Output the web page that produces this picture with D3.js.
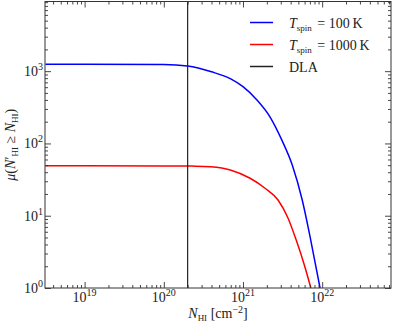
<!DOCTYPE html>
<html>
<head>
    <script src="https://d3js.org/d3.v7.js"></script>
    <style>
        body { margin: 0; background: #fff; }
        svg text { font-family: "Liberation Serif", "DejaVu Serif", serif; fill: #222; }
        .tick line { stroke: #333; stroke-width: 0.9; }
    </style>
</head>
<body>
    <svg></svg>
    <script>
        // Data
        var nBlue = [3.2e18, 1e19, 1e20, 2e20, 4e20, 7e20, 1e21, 1.5e21, 2.2e21, 3.1e21, 4.2e21, 5.6e21, 7.2e21, 9.4e21];
        var muBlue = [1250, 1250, 1240, 1180, 980, 780, 610, 400, 232, 111, 50, 16.5, 4.5, 1];
        var nRed = [3.2e18, 1e19, 1e20, 2.5e20, 3.9e20, 6.9e20, 1.23e21, 1.9e21, 2.77e21, 3.7e21, 4.7e21, 5.9e21, 7.2e21];
        var muRed = [49, 49, 48.8, 48.5, 47.5, 43, 33, 24, 16.5, 9.3, 4.6, 2.15, 1];
        var dlaN = 2e20;

        var xTicks = [1e19, 1e20, 1e21, 1e22];
        var xTickExp = ["19", "20", "21", "22"];
        var yTicks = [1, 10, 100, 1000];
        var yTickExp = ["0", "1", "2", "3"];

        var xDomain = [3.16e18, 7.4e22];
        var yDomain = [1, 9200];

        // Graph dimensions
        var width = 394, height = 324;
        var pLeft = 45, pRight = 391, pTop = 1.5, pBottom = 288;

        var svg = d3.select("svg")
            .attr("width", width)
            .attr("height", height);

        var x = d3.scaleLog().domain(xDomain).range([pLeft, pRight]);
        var y = d3.scaleLog().domain(yDomain).range([pBottom, pTop]);

        var xMinor = x.ticks().filter(function (d) { return xTicks.indexOf(d) < 0; });
        var yMinor = y.ticks().filter(function (d) { return yTicks.indexOf(d) < 0; });

        svg.append("clipPath").attr("id", "plot")
            .append("rect")
            .attr("x", pLeft).attr("y", pTop)
            .attr("width", pRight - pLeft).attr("height", pBottom - pTop);

        // curves
        var line = d3.line()
            .x(function (d) { return x(d[0]); })
            .y(function (d) { return y(d[1]); })
            .curve(d3.curveMonotoneX);

        svg.append("path")
            .datum(d3.zip(nBlue, muBlue))
            .attr("clip-path", "url(#plot)")
            .attr("fill", "none").attr("stroke", "#0000ff").attr("stroke-width", 1.5)
            .attr("d", line);

        svg.append("path")
            .datum(d3.zip(nRed, muRed))
            .attr("clip-path", "url(#plot)")
            .attr("fill", "none").attr("stroke", "#ff0000").attr("stroke-width", 1.5)
            .attr("d", line);

        // DLA line
        svg.append("line")
            .attr("x1", x(dlaN)).attr("x2", x(dlaN))
            .attr("y1", pTop).attr("y2", pBottom)
            .attr("stroke", "#222").attr("stroke-width", 1.2);

        // ticks on all four sides, pointing in
        function ticks(axis, values, size, tx, ty) {
            svg.append("g")
                .attr("transform", "translate(" + tx + "," + ty + ")")
                .call(axis.tickValues(values).tickSize(-size).tickFormat(""))
                .call(function (g) { g.select(".domain").remove(); });
        }
        ticks(d3.axisBottom(x), xTicks, 6, 0, pBottom);
        ticks(d3.axisBottom(x), xMinor, 3, 0, pBottom);
        ticks(d3.axisTop(x), xTicks, 6, 0, pTop);
        ticks(d3.axisTop(x), xMinor, 3, 0, pTop);
        ticks(d3.axisLeft(y), yTicks, 6, pLeft, 0);
        ticks(d3.axisLeft(y), yMinor, 3, pLeft, 0);
        ticks(d3.axisRight(y), yTicks, 6, pRight, 0);
        ticks(d3.axisRight(y), yMinor, 3, pRight, 0);

        // frame
        svg.append("rect")
            .attr("x", pLeft).attr("y", pTop)
            .attr("width", pRight - pLeft).attr("height", pBottom - pTop)
            .attr("fill", "none").attr("stroke", "#333").attr("stroke-width", 1);

        // tick labels
        xTicks.forEach(function (d, i) {
            var t = svg.append("text")
                .attr("x", x(d)).attr("y", 302)
                .attr("text-anchor", "middle").attr("font-size", 14);
            t.append("tspan").text("10");
            t.append("tspan").attr("font-size", 10).attr("dy", -6).text(xTickExp[i]);
        });
        yTicks.forEach(function (d, i) {
            var t = svg.append("text")
                .attr("x", 43).attr("y", y(d) + 5)
                .attr("text-anchor", "end").attr("font-size", 14);
            t.append("tspan").text("10");
            t.append("tspan").attr("font-size", 10).attr("dy", -6).text(yTickExp[i]);
        });

        // axis labels
        var xl = svg.append("text")
            .attr("x", (pLeft + pRight) / 2).attr("y", 318)
            .attr("text-anchor", "middle").attr("font-size", 14);
        xl.append("tspan").attr("font-style", "italic").text("N");
        xl.append("tspan").attr("font-size", 9).attr("dy", 3).text("HI");
        xl.append("tspan").attr("dy", -3).text(" [cm");
        xl.append("tspan").attr("font-size", 10).attr("dy", -5).text("\u22122");
        xl.append("tspan").attr("dy", 5).text("]");

        var yl = svg.append("text")
            .attr("transform", "translate(15," + (pTop + pBottom) / 2 + ") rotate(-90)")
            .attr("text-anchor", "middle").attr("font-size", 14);
        yl.append("tspan").attr("font-style", "italic").text("\u03bc");
        yl.append("tspan").text("(");
        yl.append("tspan").attr("font-style", "italic").text("N");
        yl.append("tspan").text("\u2032");
        yl.append("tspan").attr("font-size", 9).attr("dy", 3).text("HI");
        yl.append("tspan").attr("dy", -3).text(" \u2265 ");
        yl.append("tspan").attr("font-style", "italic").text("N");
        yl.append("tspan").attr("font-size", 9).attr("dy", 3).text("HI");
        yl.append("tspan").attr("dy", -3).text(")");

        // legend
        var legend = [
            { color: "#0000ff", label: ["T", "spin", " = 100\u2009K"] },
            { color: "#ff0000", label: ["T", "spin", " = 1000\u2009K"] },
            { color: "#222", label: ["DLA"] }
        ];
        legend.forEach(function (d, i) {
            var ly = 22.5 + i * 22;
            svg.append("line")
                .attr("x1", 250).attr("x2", 273)
                .attr("y1", ly).attr("y2", ly)
                .attr("stroke", d.color).attr("stroke-width", 1.5);
            var t = svg.append("text")
                .attr("x", 289).attr("y", ly + 5).attr("font-size", 14);
            if (d.label.length == 1) {
                t.text(d.label[0]);
            } else {
                t.append("tspan").attr("font-style", "italic").text(d.label[0]);
                t.append("tspan").attr("font-size", 9).attr("dy", 3).text(d.label[1]);
                t.append("tspan").attr("dy", -3).attr("dx", 2).text(d.label[2]);
            }
        });
    </script>
</body>
</html>
